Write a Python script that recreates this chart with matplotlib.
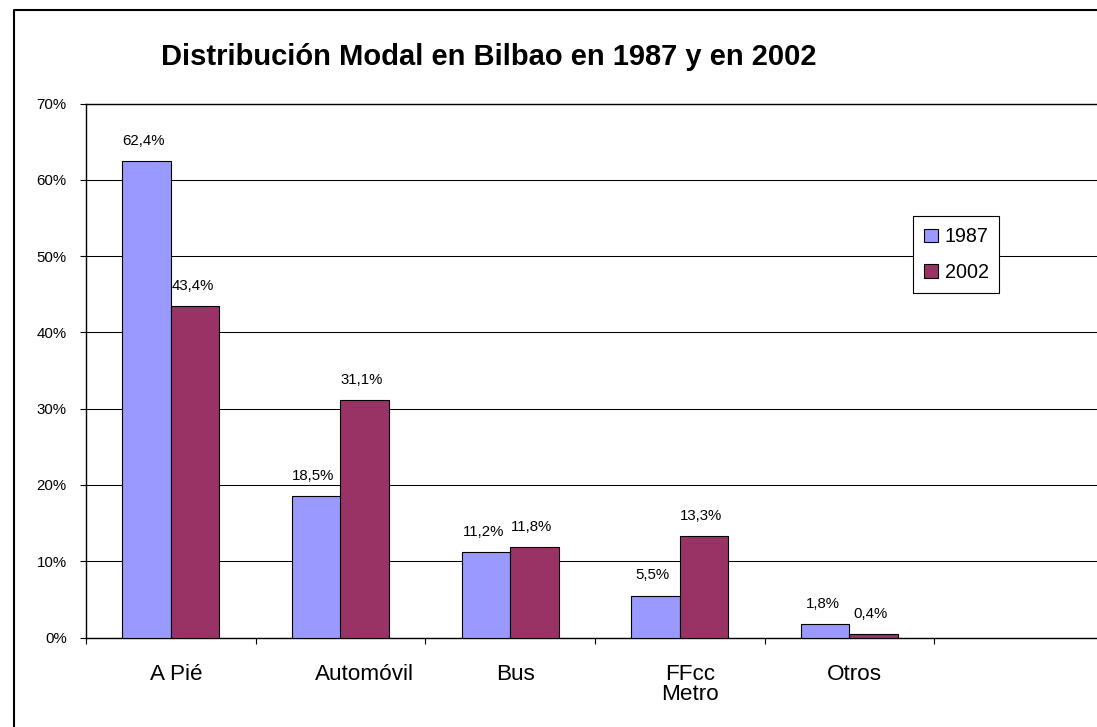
import matplotlib
matplotlib.use("Agg")
import matplotlib.pyplot as plt
from matplotlib import font_manager
from matplotlib.lines import Line2D
from matplotlib.ticker import FuncFormatter
import numpy as np

# datos
categorias = ["A Pié", "Automóvil", "Bus", "FFcc\nMetro", "Otros"]
anios = ["1987", "2002"]
v1987 = [0.624, 0.185, 0.112, 0.055, 0.018]
v2002 = [0.434, 0.311, 0.118, 0.133, 0.004]
etiq1987 = ["62,4%", "18,5%", "11,2%", "5,5%", "1,8%"]
etiq2002 = ["43,4%", "31,1%", "11,8%", "13,3%", "0,4%"]
desplaz_etiq = [0.03, 0.14, 0.03, 0.06, 0.03]   # las etiquetas del eje x no van centradas del todo

col1987 = "#9999FF"
col2002 = "#993366"

# fuente estrecha si existe (parecido al Arial comprimido de Excel)
try:
    font_manager.findfont("Liberation Sans Narrow", fallback_to_default=False)
    estrecha = True
except Exception:
    estrecha = False
if estrecha:
    fam = ["Liberation Sans Narrow", "Liberation Sans"]
    f_tick, f_dato, f_cat, f_ley = 12.5, 12.5, 19, 17
else:
    fam = ["Liberation Sans"]
    f_tick, f_dato, f_cat, f_ley = 10.8, 10.8, 16.2, 14.2

W, H = 1097, 727
fig = plt.figure(figsize=(W / 100, H / 100), dpi=100)

# marco exterior del grafico (solo se ven el lado izquierdo y el de arriba)
fig.add_artist(Line2D([14 / W, 14 / W, 1.2], [-0.1, 1 - 9.5 / H, 1 - 9.5 / H],
                      transform=fig.transFigure, color="black", linewidth=1.5))

ax = fig.add_axes([86 / W, (H - 637.5) / H, (1104 - 86) / W, (637.5 - 103.5) / H])
ax.set_xlim(0, 6)
ax.set_ylim(0, 0.70)

x = np.arange(len(categorias)) + 0.5
w = 0.286
b1 = ax.bar(x - w / 2, v1987, w, color=col1987, edgecolor="black", linewidth=0.8, label=anios[0], zorder=3)
b2 = ax.bar(x + w / 2, v2002, w, color=col2002, edgecolor="black", linewidth=0.8, label=anios[1], zorder=3)

for barras, etiquetas in [(b1, etiq1987), (b2, etiq2002)]:
    for r, t in zip(barras, etiquetas):
        ax.annotate(t, (r.get_x() + r.get_width() / 2, r.get_height()), xytext=(-2, 14.5),
                    textcoords="offset points", ha="center", va="center",
                    fontsize=f_dato, family=fam)

# ejes
ax.set_yticks(np.arange(0, 0.71, 0.10))
ax.yaxis.set_major_formatter(FuncFormatter(lambda v, p: "{:.0f}%".format(v * 100)))
ax.tick_params(axis="y", direction="out", length=4.3, width=0.8, pad=9.5, labelsize=f_tick)
for lb in ax.get_yticklabels():
    lb.set_family(fam)

ax.set_xticks(np.arange(0, 7))
ax.set_xticklabels([])
ax.tick_params(axis="x", which="major", direction="out", length=4.3, width=0.8)
ax.set_xticks(x + np.array(desplaz_etiq), minor=True)
ax.set_xticklabels(categorias, minor=True, fontsize=f_cat, family=fam, linespacing=0.95)
ax.tick_params(axis="x", which="minor", length=0, pad=19)

ax.grid(axis="y", color="black", linewidth=0.75, zorder=0)
for s in ax.spines.values():
    s.set_color("black")
    s.set_linewidth(1.0)
ax.spines["right"].set_visible(False)

fig.text(488.5 / W, 1 - 57 / H, "Distribución Modal en Bilbao en 1987 y en 2002",
         ha="center", va="center", fontsize=21, fontweight="bold", family="Liberation Sans")

ley = fig.legend(handles=[b1, b2], loc="upper left", bbox_to_anchor=(913 / W, 1 - 216.5 / H),
                 prop={"family": fam, "size": f_ley}, fancybox=False, frameon=True,
                 edgecolor="black", framealpha=1, borderpad=0.55, labelspacing=0.85,
                 handlelength=0.7, handleheight=0.7, handletextpad=0.35, borderaxespad=0)
ley.get_frame().set_linewidth(0.8)

fig.savefig("out.png", dpi=100)
